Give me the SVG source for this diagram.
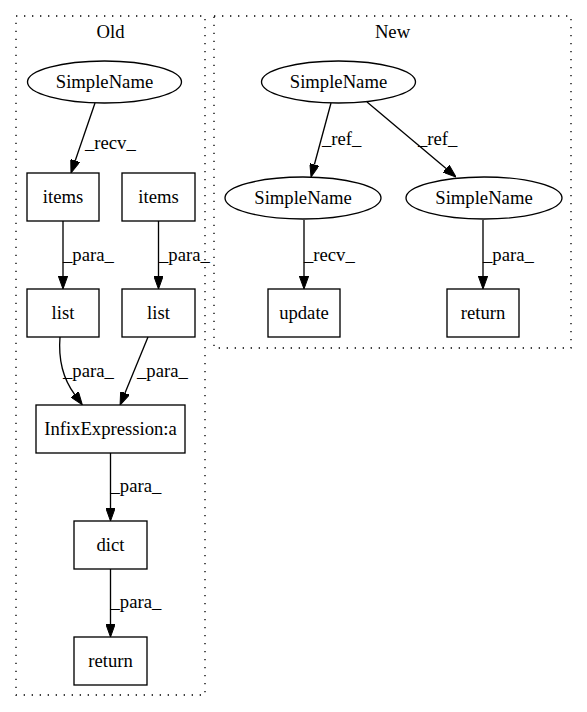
<svg xmlns="http://www.w3.org/2000/svg" width="587" height="712" viewBox="0 0 587 712">
<style>
text{font-family:"Liberation Serif","Times New Roman",serif;font-size:18.67px;fill:#000}
.n{text-anchor:middle}
.shape{fill:none;stroke:#000;stroke-width:1.33}
.cl{fill:none;stroke:#000;stroke-width:1.33;stroke-dasharray:1.33,6.67}
.e{fill:none;stroke:#000;stroke-width:1.33;marker-end:url(#ah)}
</style>
<defs>
<marker id="ah" viewBox="0 -4.7 13 9.4" refX="0" refY="0" markerWidth="13" markerHeight="9.4" markerUnits="userSpaceOnUse" orient="auto">
<path d="M0,-4.7 L13,0 L0,4.7 Z" fill="#000" stroke="#000" stroke-width="1"/>
</marker>
</defs>
<rect width="587" height="712" fill="#fff"/>
<g id="cluster_old">
<rect class="cl" x="16" y="16" width="189" height="679"/>
<text class="n" x="110.5" y="38">Old</text>
</g>
<g id="cluster_new">
<rect class="cl" x="214" y="16" width="357" height="332"/>
<text class="n" x="392.5" y="38">New</text>
</g>
<g id="edges">
<path class="e" d="M95,103 L75.2,160.7"/>
<text x="85" y="149">_recv_</text>
<path class="e" d="M63,221 L63,276"/>
<text x="63" y="261">_para_</text>
<path class="e" d="M158.5,221 L158.5,276"/>
<text x="159" y="261">_para_</text>
<path class="e" d="M60,337 C58,362 64,380 74.6,394.3"/>
<text x="63" y="377">_para_</text>
<path class="e" d="M148,337 L125,393"/>
<text x="137" y="377">_para_</text>
<path class="e" d="M110.5,453 L110.5,508"/>
<text x="110.5" y="492">_para_</text>
<path class="e" d="M110.5,569 L110.5,624"/>
<text x="110.5" y="608">_para_</text>
<path class="e" d="M331,103 L314.4,164.5"/>
<text x="322" y="145">_ref_</text>
<path class="e" d="M367,102 L446.1,168.6"/>
<text x="418" y="145">_ref_</text>
<path class="e" d="M304,220 L304,276"/>
<text x="304" y="261">_recv_</text>
<path class="e" d="M483,220 L483,276"/>
<text x="483" y="261">_para_</text>
</g>
<g id="old_simplename">
<ellipse class="shape" cx="104.5" cy="82" rx="77" ry="21"/>
<text class="n" x="104.5" y="88">SimpleName</text>
</g>
<g id="old_items1">
<rect class="shape" x="27" y="173" width="72" height="48"/>
<text class="n" x="63" y="203">items</text>
</g>
<g id="old_items2">
<rect class="shape" x="122" y="173" width="73" height="48"/>
<text class="n" x="158.5" y="203">items</text>
</g>
<g id="old_list1">
<rect class="shape" x="27" y="289" width="72" height="48"/>
<text class="n" x="63" y="319">list</text>
</g>
<g id="old_list2">
<rect class="shape" x="122" y="289" width="73" height="48"/>
<text class="n" x="158.5" y="319">list</text>
</g>
<g id="old_infix">
<rect class="shape" x="36" y="405" width="149" height="48"/>
<text class="n" x="110.5" y="435">InfixExpression:a</text>
</g>
<g id="old_dict">
<rect class="shape" x="74" y="521" width="73" height="48"/>
<text class="n" x="110.5" y="551">dict</text>
</g>
<g id="old_return">
<rect class="shape" x="74" y="637" width="73" height="48"/>
<text class="n" x="110.5" y="667">return</text>
</g>
<g id="new_simplename_top">
<ellipse class="shape" cx="338.5" cy="82" rx="77" ry="21"/>
<text class="n" x="338.5" y="88">SimpleName</text>
</g>
<g id="new_simplename_left">
<ellipse class="shape" cx="303" cy="198" rx="78" ry="21"/>
<text class="n" x="303" y="204">SimpleName</text>
</g>
<g id="new_simplename_right">
<ellipse class="shape" cx="484" cy="198" rx="78" ry="21"/>
<text class="n" x="484" y="204">SimpleName</text>
</g>
<g id="new_update">
<rect class="shape" x="268" y="289" width="72" height="48"/>
<text class="n" x="304" y="319">update</text>
</g>
<g id="new_return">
<rect class="shape" x="447" y="289" width="72" height="48"/>
<text class="n" x="483" y="319">return</text>
</g>
</svg>
